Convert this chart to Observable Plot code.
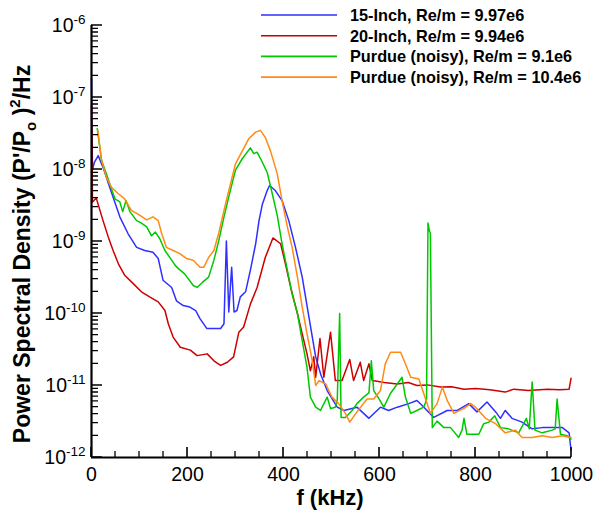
<!DOCTYPE html>
<html><head><meta charset="utf-8">
<script src="https://cdn.jsdelivr.net/npm/d3@7"></script>
<script src="https://cdn.jsdelivr.net/npm/@observablehq/plot@0.6"></script>
</head><body style="margin:0;background:#fff"><div id="wrap" style="position:relative;width:596px;height:510px"><div id="chart"></div></div>
<script>
// ---- data: [frequency kHz, PSD (P'/Po)^2/Hz] ----
const inch15 = [[0,1.82e-7],[2,9.8e-9],[6,1.26e-8],[14,1.56e-8],[24,1.07e-8],[42,4.7e-9],[59,2.2e-9],[76,1.29e-9],[94,8.3e-10],[111,7.5e-10],[128,7.1e-10],[139,5.8e-10],[149,2.9e-10],[167,2.3e-10],[177,1.5e-10],[191,1.29e-10],[205,1.23e-10],[217,1.1e-10],[226,8.5e-11],[240,6.2e-11],[255,6.2e-11],[269,6.2e-11],[276,7.2e-11],[281,1.02e-9],[286,1.05e-10],[292,4.4e-10],[297,1.05e-10],[303,1.1e-10],[310,1.7e-10],[321,2.0e-10],[331,4.0e-10],[342,9.3e-10],[349,1.95e-9],[356,3.3e-9],[366,5.1e-9],[371,6.0e-9],[383,5.1e-9],[397,3.7e-9],[411,1.95e-9],[425,8.3e-10],[439,3.2e-10],[453,8.9e-11],[467,2.5e-11],[478,1.4e-11],[491,8.5e-12],[512,5.0e-12],[526,4.5e-12],[553,5.0e-12],[578,3.5e-12],[602,5.0e-12],[619,4.5e-12],[637,5.0e-12],[661,5.6e-12],[678,6.2e-12],[690,5.2e-12],[713,3.6e-12],[741,4.5e-12],[762,4.5e-12],[786,5.6e-12],[803,4.3e-12],[824,5.9e-12],[842,4.3e-12],[852,3.5e-12],[862,4.5e-12],[876,3.5e-12],[897,3.1e-12],[918,2.5e-12],[939,2.6e-12],[960,2.6e-12],[981,2.6e-12],[995,2.2e-12],[999,1.26e-12]];
const inch20 = [[0,7.8e-8],[1,2.5e-8],[2,3.55e-9],[5,3.7e-9],[10,4.0e-9],[24,1.95e-9],[35,1.15e-9],[45,7.5e-10],[56,4.9e-10],[69,3.4e-10],[87,2.6e-10],[104,2.0e-10],[121,1.7e-10],[139,1.45e-10],[153,1.1e-10],[160,7.2e-11],[170,4.7e-11],[185,3.4e-11],[206,3.1e-11],[220,2.6e-11],[241,2.75e-11],[255,2.2e-11],[269,1.9e-11],[283,2.1e-11],[296,2.5e-11],[307,5.5e-11],[317,6.5e-11],[331,1.35e-10],[345,2.3e-10],[362,6.0e-10],[378,1.12e-9],[394,9.3e-10],[404,4.9e-10],[415,2.3e-10],[429,1.0e-10],[439,5.2e-11],[449,2.75e-11],[456,1.6e-11],[463,2.5e-11],[467,1.3e-11],[476,4.5e-11],[484,1.3e-11],[498,5.5e-11],[508,1.17e-11],[522,1.17e-11],[538,2.3e-11],[546,1.17e-11],[560,2.1e-11],[567,1.17e-11],[578,2.0e-11],[585,1.17e-11],[610,1.1e-11],[637,1.05e-11],[660,1.1e-11],[678,1.0e-11],[700,1.02e-11],[727,9.5e-12],[750,9.6e-12],[776,8.9e-12],[800,9.1e-12],[830,8.7e-12],[862,8.1e-12],[880,8.9e-12],[910,8.5e-12],[950,8.9e-12],[975,8.7e-12],[995,8.9e-12],[999,1.26e-11]];
const purdue91 = [[12,3.7e-8],[21,1.33e-8],[31,8.7e-9],[38,6.3e-9],[49,3.9e-9],[59,3.55e-9],[65,2.6e-9],[72,3.7e-9],[80,2.6e-9],[94,1.95e-9],[104,1.8e-9],[115,1.6e-9],[125,1.2e-9],[133,1.35e-9],[142,1.1e-9],[153,7.5e-10],[167,5.5e-10],[174,4.7e-10],[181,4.2e-10],[194,3.55e-10],[212,2.45e-10],[220,2.3e-10],[231,2.7e-10],[244,3.2e-10],[255,5.5e-10],[265,1.02e-9],[276,2.2e-9],[286,4.2e-9],[300,9.8e-9],[314,1.41e-8],[331,2.0e-8],[338,1.66e-8],[345,1.74e-8],[356,1.26e-8],[366,9.1e-9],[376,4.8e-9],[387,2.3e-9],[397,9.3e-10],[408,4.0e-10],[418,1.86e-10],[429,1.0e-10],[439,4.2e-11],[449,1.78e-11],[456,6.9e-12],[467,5.0e-12],[477,4.5e-12],[491,6.9e-12],[498,4.8e-12],[508,5.0e-12],[512,6.3e-12],[517,1.0e-10],[520,3.6e-12],[529,3.6e-12],[543,4.5e-12],[553,5.6e-12],[567,6.9e-12],[578,7.9e-12],[583,2.2e-11],[588,8.5e-12],[599,6.5e-12],[609,5.0e-12],[623,7.8e-12],[637,1.05e-11],[647,1.3e-11],[654,6.9e-12],[665,4.1e-12],[678,4.5e-12],[692,5.0e-12],[698,6.3e-12],[701,1.8e-9],[704,1.4e-9],[706,1.3e-9],[710,2.6e-12],[720,3.2e-12],[734,2.6e-12],[748,2.6e-12],[765,1.9e-12],[772,2.4e-12],[776,3.5e-12],[782,2.1e-12],[807,2.1e-12],[817,2.95e-12],[828,3.1e-12],[840,3.8e-12],[852,2.6e-12],[869,2.5e-12],[890,2.2e-12],[906,3.5e-12],[912,2.5e-12],[918,1.12e-11],[924,2.4e-12],[939,2.2e-12],[960,2.4e-12],[966,2.5e-12],[970,6.5e-12],[977,2.1e-12],[991,2.0e-12],[999,1.8e-12]];
const purdue104 = [[13,3.55e-8],[21,1.33e-8],[31,7.8e-9],[42,5.6e-9],[56,4.6e-9],[69,3.9e-9],[83,2.7e-9],[97,2.4e-9],[115,2.0e-9],[128,2.2e-9],[139,1.95e-9],[146,1.3e-9],[156,8.3e-10],[170,7.5e-10],[184,6.8e-10],[198,5.8e-10],[212,5.5e-10],[226,4.4e-10],[234,4.4e-10],[244,6.0e-10],[255,7.5e-10],[265,1.3e-9],[276,2.7e-9],[286,5.1e-9],[300,1.2e-8],[314,1.8e-8],[328,2.7e-8],[342,3.3e-8],[352,3.5e-8],[362,2.8e-8],[373,1.8e-8],[387,8.7e-9],[397,3.7e-9],[408,1.6e-9],[418,8.3e-10],[429,3.2e-10],[439,1.23e-10],[449,5.2e-11],[460,2.2e-11],[467,1.0e-11],[474,1.17e-11],[488,1.05e-11],[501,6.9e-12],[515,5.6e-12],[529,4.1e-12],[538,3.1e-12],[553,4.3e-12],[574,6.5e-12],[588,6.5e-12],[602,8.5e-12],[612,2.0e-11],[623,2.9e-11],[644,2.9e-11],[654,2.0e-11],[665,1.3e-11],[682,1.23e-11],[692,7.8e-12],[706,4.1e-12],[720,5.6e-12],[731,9.5e-12],[741,6.2e-12],[755,4.1e-12],[776,4.8e-12],[790,5.6e-12],[800,5.0e-12],[821,3.5e-12],[842,2.95e-12],[862,2.2e-12],[883,2.4e-12],[897,1.9e-12],[918,1.9e-12],[939,2.0e-12],[960,1.9e-12],[981,2.0e-12],[999,1.9e-12]];

const seriesNames = ["15-Inch, Re/m = 9.97e6","20-Inch, Re/m = 9.94e6","Purdue (noisy), Re/m = 9.1e6","Purdue (noisy), Re/m = 10.4e6"];
const seriesData = [inch15, inch20, purdue91, purdue104];
const seriesColors = ["#2f2fff","#cc0000","#00c800","#ff8a14"];

const xMajorTicks = [0,200,400,600,800,1000];
const xMinorTicks = [50,100,150,250,300,350,450,500,550,650,700,750,850,900,950];
const yMajorTicks = [1e-12,1e-11,1e-10,1e-9,1e-8,1e-7,1e-6];
const yMinorTicks = yMajorTicks.slice(0,-1).flatMap(d => [2,3,4,5,6,7,8,9].map(m => m*d));

const FONT = "'Liberation Sans', Arial, Helvetica, sans-serif";
const W = 596, H = 510, ML = 91, MR = 25, MT = 25, MB = 53;

const chart = Plot.plot({
  width: W, height: H,
  marginLeft: ML, marginRight: MR, marginTop: MT, marginBottom: MB,
  style: {fontFamily: FONT, fontSize: "19.5px", color: "black", background: "white"},
  x: {domain: [0, 1000]},
  y: {type: "log", domain: [1e-12, 1e-6]},
  marks: [
    Plot.axisX({ticks: xMajorTicks, tickSize: 0, tickPadding: 10, tickFormat: d => String(d), label: null}),
    Plot.axisY({ticks: yMajorTicks, tickSize: 0, tickPadding: 6, tickFormat: d => "e" + Math.round(Math.log10(d)), label: null}),
    ...seriesData.map((data, i) => Plot.line(data, {x: d => d[0], y: d => d[1], stroke: seriesColors[i], strokeWidth: 1.5})),
    Plot.ruleX([0], {strokeWidth: 2.2}),
    Plot.ruleY([1e-12], {strokeWidth: 2.2})
  ]
});
document.getElementById("chart").appendChild(chart);

const svg = d3.select(chart);

// superscript exponents on y tick labels
svg.selectAll('g[aria-label="y-axis tick label"] text').each(function() {
  const t = d3.select(this);
  const s = t.text();
  if (!s.startsWith("e")) return;
  t.text("");
  t.append("tspan").text("10");
  t.append("tspan").attr("dy", "-8").attr("font-size", "13.5px").text(s.slice(1));
});

// axis titles
svg.append("text").attr("x", 330).attr("y", 497).attr("dy", "0.35em")
  .attr("text-anchor", "middle").attr("font-weight", "bold").attr("font-size", 22)
  .attr("font-family", FONT).text("f (kHz)");
const yt = svg.append("text").attr("transform", "translate(22,254) rotate(-90)").attr("dy", "0.35em")
  .attr("text-anchor", "middle").attr("font-weight", "bold").attr("font-size", 23).attr("font-family", FONT);
yt.append("tspan").text("Power Spectral Density (P'/P");
yt.append("tspan").attr("dy", 6).attr("font-size", 15).text("o");
yt.append("tspan").attr("dy", -6).text(" )");
yt.append("tspan").attr("dy", -10).attr("font-size", 15).text("2");
yt.append("tspan").attr("dy", 10).text("/Hz");

// legend
const lg = svg.append("g").attr("font-family", FONT).attr("text-anchor", "start");
seriesNames.forEach((name, i) => {
  const y = 15 + i * 20.7;
  lg.append("line").attr("x1", 261).attr("x2", 337).attr("y1", y).attr("y2", y)
    .attr("stroke", seriesColors[i]).attr("stroke-width", 1.6);
  lg.append("text").attr("x", 350).attr("y", y).attr("dy", "0.36em")
    .attr("text-anchor", "start").attr("font-weight", "bold").attr("font-size", 16.3).text(name);
});

// inward tick marks, positioned with the chart's scales, drawn on an overlay layer
let sx = d3.scaleLinear([0, 1000], [ML, W - MR]);
let sy = d3.scaleLog([1e-12, 1e-6], [H - MB, MT]);
try {
  const px = chart.scale("x"), py = chart.scale("y");
  if (px && typeof px.apply === "function" && isFinite(px.apply(500))) sx = v => px.apply(v);
  if (py && typeof py.apply === "function" && isFinite(py.apply(1e-9))) sy = v => py.apply(v);
} catch (e) {}
const x0 = sx(0), y0 = sy(1e-12);
let path = "";
xMajorTicks.forEach(v => { path += `M${sx(v)},${y0}V${y0 - 10}`; });
yMajorTicks.forEach(v => { path += `M${x0},${sy(v)}H${x0 + 11}`; });
let pathMinor = "";
xMinorTicks.forEach(v => { pathMinor += `M${sx(v)},${y0}V${y0 - 6}`; });
yMinorTicks.forEach(v => { pathMinor += `M${x0},${sy(v)}H${x0 + 7}`; });

const overlay = d3.select("#wrap").append("svg")
  .attr("width", W).attr("height", H).attr("viewBox", `0 0 ${W} ${H}`)
  .style("position", "absolute").style("left", "0px").style("top", "0px").style("pointer-events", "none");
overlay.append("path").attr("d", path).attr("stroke", "#000").attr("stroke-width", 1.6).attr("fill", "none");
overlay.append("path").attr("d", pathMinor).attr("stroke", "#000").attr("stroke-width", 1.3).attr("fill", "none");
</script></body></html>
